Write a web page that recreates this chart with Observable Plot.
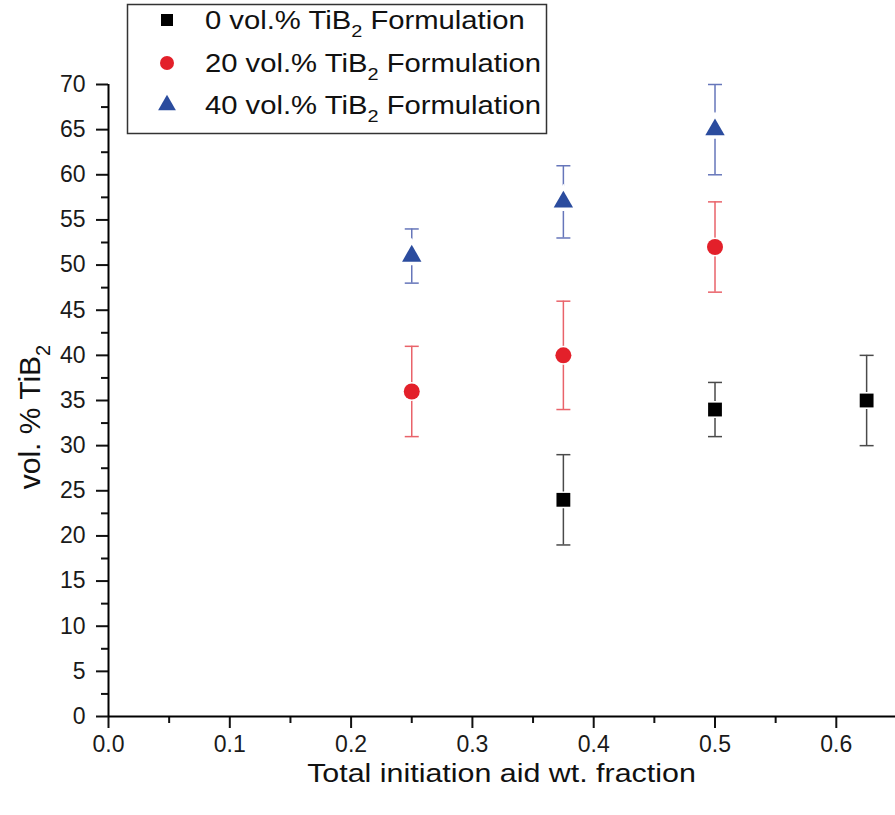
<!DOCTYPE html>
<html>
<head>
<meta charset="utf-8">
<script src="https://cdn.jsdelivr.net/npm/d3@7"></script>
<script src="https://cdn.jsdelivr.net/npm/@observablehq/plot@0.6"></script>
<style>
  html, body { margin: 0; padding: 0; background: #fff; }
  #chart { position: relative; width: 895px; height: 815px; }
</style>
</head>
<body>
<div id="chart"></div>
<script>
// ---- data ----
const seriesNames = ["0 vol.% TiB|2| Formulation", "20 vol.% TiB|2| Formulation", "40 vol.% TiB|2| Formulation"];
const xFraction0 = [0.375, 0.5, 0.625];
const mean0 = [24, 34, 35];
const low0 = [19, 31, 30];
const high0 = [29, 37, 40];

const xFraction20 = [0.25, 0.375, 0.5];
const mean20 = [36, 40, 52];
const low20 = [31, 34, 47];
const high20 = [41, 46, 57];

const xFraction40 = [0.25, 0.375, 0.5];
const mean40 = [51, 57, 65];
const low40 = [48, 53, 60];
const high40 = [54, 61, 70];

const xTicks = [0, 0.1, 0.2, 0.3, 0.4, 0.5, 0.6];
const xMinorTicks = [0.05, 0.15, 0.25, 0.35, 0.45, 0.55, 0.65];
const yTicks = [0, 5, 10, 15, 20, 25, 30, 35, 40, 45, 50, 55, 60, 65, 70];
const yMinorTicks = [2.5, 7.5, 12.5, 17.5, 22.5, 27.5, 32.5, 37.5, 42.5, 47.5, 52.5, 57.5, 62.5, 67.5];

const xTitle = "Total initiation aid wt. fraction";
const yTitle = "vol. % TiB|2|";

// ---- build table ----
const colors = ["#000000", "#e3202a", "#2b4c9e"];
const errColors = ["#4a4a4a", "#e9636a", "#6676ba"];
const symbols = ["square", "circle", "triangle"];
const radii = [7.8, 8, 7.2];
const sets = [
  [xFraction0, mean0, low0, high0],
  [xFraction20, mean20, low20, high20],
  [xFraction40, mean40, low40, high40]
];
const rows = [];
sets.forEach(([xs, ms, ls, hs], s) => {
  xs.forEach((x, i) => rows.push({series: s, x, y: ms[i], lo: ls[i], hi: hs[i]}));
});

const capSymbol = {draw(ctx, size) { const w = 7; ctx.moveTo(-w, 0); ctx.lineTo(w, 0); }};
const FONT = "'Liberation Sans', Arial, sans-serif";

const marks = [];
marks.push(Plot.axisX(xMinorTicks, {tickSize: 7, tickFormat: () => "", strokeWidth: 2, label: null}));
marks.push(Plot.axisX(xTicks, {tickSize: 12, tickPadding: 7, tickFormat: d3.format(".1f"), strokeWidth: 2, fontSize: 23, label: null, fill: "#1a1a1a"}));
marks.push(Plot.axisY(yMinorTicks, {tickSize: 7, tickFormat: () => "", strokeWidth: 2, label: null}));
marks.push(Plot.axisY(yTicks, {tickSize: 12, tickPadding: 11, tickFormat: d3.format("d"), strokeWidth: 2, fontSize: 23, label: null, fill: "#1a1a1a"}));
marks.push(Plot.ruleX([0], {strokeWidth: 2, stroke: "#000"}));
marks.push(Plot.ruleY([0], {strokeWidth: 2, stroke: "#000"}));

[0, 1, 2].forEach(s => {
  const d = rows.filter(r => r.series === s);
  marks.push(Plot.ruleX(d, {x: "x", y1: "lo", y2: "hi", stroke: errColors[s], strokeWidth: 1.5}));
  marks.push(Plot.dot(d, {x: "x", y: "hi", symbol: capSymbol, stroke: errColors[s], strokeWidth: 1.5}));
  marks.push(Plot.dot(d, {x: "x", y: "lo", symbol: capSymbol, stroke: errColors[s], strokeWidth: 1.5}));
  marks.push(Plot.dot(d, {x: "x", y: "y", symbol: symbols[s], r: radii[s], fill: "#fff", stroke: "#fff", strokeWidth: s === 2 ? 7 : 3}));
  marks.push(Plot.dot(d, {x: "x", y: "y", symbol: symbols[s], r: radii[s], fill: colors[s], stroke: "none"}));
});

const chart = Plot.plot({
  width: 895,
  height: 815,
  marginLeft: 108,
  marginRight: 0,
  marginTop: 84,
  marginBottom: 99,
  x: {domain: [0, 0.6488]},
  y: {domain: [0, 70]},
  style: {fontFamily: FONT, color: "#111", background: "#fff"},
  marks
});
document.getElementById("chart").appendChild(chart);

function applySub(textEl, label, subSize, subDy) {
  const parts = label.split("|");
  textEl.text(null);
  parts.forEach((p, i) => {
    if (i % 2 === 1) {
      textEl.append("tspan").attr("font-size", subSize).attr("dy", subDy).text(p);
    } else if (p.length) {
      textEl.append("tspan").attr("dy", i > 0 ? -subDy : 0).text(p);
    }
  });
}
const svg = d3.select(chart);
const xr = chart.scale("x").range;
const yr = chart.scale("y").range;
const STRETCH = 1.17;

// x title
const xc = (xr[0] + xr[1]) / 2;
svg.append("text")
  .attr("x", xc).attr("y", yr[0] + 66)
  .attr("text-anchor", "middle").attr("font-family", FONT).attr("font-size", 26).attr("fill", "#111")
  .attr("transform", `translate(${xc},0) scale(${STRETCH},1) translate(${-xc},0)`)
  .text(xTitle);

// y title
const yc = (yr[0] + yr[1]) / 2 + 17;
const yt = svg.append("text")
  .attr("transform", `translate(40,${yc}) rotate(-90)`)
  .attr("text-anchor", "middle").attr("font-family", FONT).attr("font-size", 30).attr("fill", "#111");
applySub(yt, yTitle, 20, 10);

// legend
const lg = svg.append("g").attr("font-family", FONT);
lg.append("rect").attr("x", 127.5).attr("y", 4.5).attr("width", 419).attr("height", 129)
  .attr("fill", "#fff").attr("stroke", "#333").attr("stroke-width", 1.5);
const rowY = [20, 63, 105];
const legendSizes = [6.8, 7, 6.6];
const symMap = {square: d3.symbolSquare, circle: d3.symbolCircle, triangle: d3.symbolTriangle};
const tx = 205;
seriesNames.forEach((name, i) => {
  lg.append("path")
    .attr("transform", `translate(167,${rowY[i]})`)
    .attr("d", d3.symbol(symMap[symbols[i]], Math.PI * legendSizes[i] * legendSizes[i])())
    .attr("fill", colors[i]);
  const t = lg.append("text").attr("x", tx).attr("y", rowY[i] + 9)
    .attr("text-anchor", "start").attr("font-size", 25).attr("fill", "#111")
    .attr("transform", `translate(${tx},0) scale(${STRETCH},1) translate(${-tx},0)`);
  applySub(t, name, 17, 8);
});
</script>
</body>
</html>
